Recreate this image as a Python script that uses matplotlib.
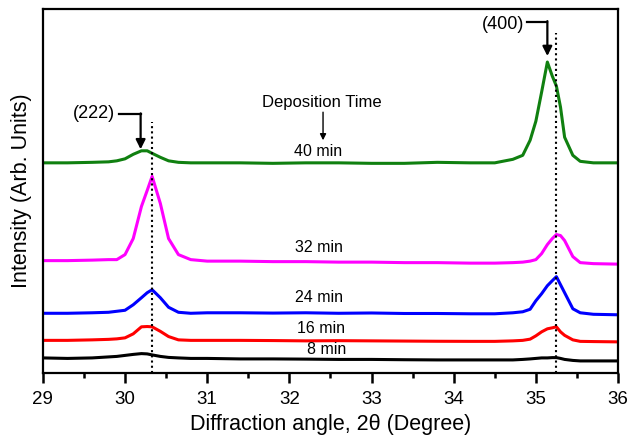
import matplotlib.pyplot as plt
from matplotlib.ticker import MultipleLocator

plt.rcParams['font.family'] = ['Liberation Sans', 'DejaVu Sans']

# 2theta sampling points (degree)
two_theta = [29.0, 29.3, 29.6, 29.8, 29.9, 30.0, 30.1, 30.2, 30.27, 30.33,
             30.43, 30.53, 30.65, 30.8, 31.0, 31.4, 31.8, 32.2, 32.6, 33.0,
             33.4, 33.8, 34.2, 34.5, 34.72, 34.84, 34.93, 35.0, 35.07, 35.14,
             35.2, 35.25, 35.3, 35.35, 35.45, 35.54, 35.7, 36.0]

# intensities (arb. units, already vertically offset as in the figure)
int_8min = [15, 14.5, 15, 16, 16.5, 17.5, 18.5, 19.3, 19, 18,
            16.5, 15.5, 15, 14.5, 14.5, 14, 14, 13.8, 13.5, 13.5,
            13.2, 13, 13, 13, 13, 13.5, 14, 14.5, 15, 15,
            15.3, 15.3, 14.5, 13.5, 12.5, 12, 12, 12]
int_16min = [32.5, 32.5, 33, 33.5, 34, 35, 39, 46, 46.3, 46,
             41.5, 36.3, 33, 32.5, 32.5, 32.5, 32.3, 32, 32.2, 32,
             31.8, 31.6, 31.5, 31.5, 32, 32.5, 33.7, 37, 41, 44,
             45, 46, 41, 37.5, 33, 31.5, 31.3, 31]
int_24min = [59.5, 59.5, 60, 60.5, 61.5, 62.5, 68, 75, 80, 83,
             75, 65.5, 60.5, 59.5, 60, 60, 59.7, 60, 59.5, 59.8,
             59.3, 59.3, 59, 59, 60, 61, 63.5, 72, 79, 87,
             92, 96, 88, 80, 64, 60, 58.5, 58]
int_32min = [112, 112, 112.5, 113, 113, 118, 134, 166, 182, 196,
             169, 134, 118, 113, 111.5, 111.5, 111, 111, 110.5, 110.5,
             110, 110, 109.5, 109.5, 110, 110.5, 111.5, 113, 119, 128,
             134, 138, 137, 132, 116, 110, 109, 108.5]
int_40min = [209.5, 209.5, 210, 210.5, 211.5, 213.5, 218, 221.5, 221.5, 219,
             215, 211.5, 210, 209.5, 209.5, 209.5, 209, 209.5, 209.5, 209,
             209, 210, 209.5, 209.5, 213, 217, 232, 251, 280, 310,
             296, 286, 265, 235, 217, 211, 209.5, 209.5]

series = [int_8min, int_16min, int_24min, int_32min, int_40min]
colors = ['black', '#ff0000', '#0000ff', '#ff00ff', '#108010']
labels = ['8 min', '16 min', '24 min', '32 min', '40 min']
label_pos = [(32.45, 23.5), (32.38, 44.5), (32.36, 75), (32.36, 125), (32.35, 221)]

peak_222 = 30.33
peak_400 = 35.25

fig = plt.figure(figsize=(6.3, 4.44), dpi=100)
ax = fig.add_axes([0.068, 0.16, 0.913, 0.82])

for y, c in zip(series, colors):
    ax.plot(two_theta, y, color=c, lw=2.2, solid_joinstyle='round')

for lab, (lx, ly) in zip(labels, label_pos):
    ax.text(lx, ly, lab, ha='center', va='center', fontsize=11.5)

# reference lines
ax.plot([peak_222, peak_222], [0, 250], ls=(0, (1, 1.5)), color='black', lw=1.5)
ax.plot([peak_400, peak_400], [0, 339], ls=(0, (1, 1.5)), color='black', lw=1.5)

# peak labels with bent arrows
ax.text(29.62, 258.5, '(222)', ha='center', va='center', fontsize=13)
ax.plot([29.93, 30.19], [258, 258], color='black', lw=1.6)
ax.annotate('', xy=(30.19, 223), xytext=(30.19, 258.8),
            arrowprops=dict(arrowstyle='-|>', color='black', lw=1.6,
                            mutation_scale=14, shrinkA=0, shrinkB=0))
ax.text(34.6, 347, '(400)', ha='center', va='center', fontsize=13)
ax.plot([34.89, 35.14], [350, 350], color='black', lw=1.6)
ax.annotate('', xy=(35.14, 316), xytext=(35.14, 350.8),
            arrowprops=dict(arrowstyle='-|>', color='black', lw=1.6,
                            mutation_scale=14, shrinkA=0, shrinkB=0))

ax.text(32.4, 270, 'Deposition Time', ha='center', va='center', fontsize=12)
ax.annotate('', xy=(32.41, 232), xytext=(32.41, 260),
            arrowprops=dict(arrowstyle='-|>', color='black', lw=1.0,
                            mutation_scale=9, shrinkA=0, shrinkB=0))

ax.set_xlim(29, 36)
ax.set_ylim(0, 363)
ax.xaxis.set_major_locator(MultipleLocator(1))
ax.xaxis.set_minor_locator(MultipleLocator(0.5))
ax.tick_params(axis='x', which='major', direction='out', length=7, width=1.8,
               labelsize=13.5, pad=6)
ax.tick_params(axis='x', which='minor', direction='out', length=3.8, width=1.8)
ax.set_yticks([])
for s in ax.spines.values():
    s.set_linewidth(1.6)

ax.set_xlabel('Diffraction angle, 2\u03b8 (Degree)', fontsize=15.5, labelpad=4)
ax.set_ylabel('Intensity (Arb. Units)', fontsize=15.5, labelpad=8)

fig.savefig('out.png', dpi=100)
